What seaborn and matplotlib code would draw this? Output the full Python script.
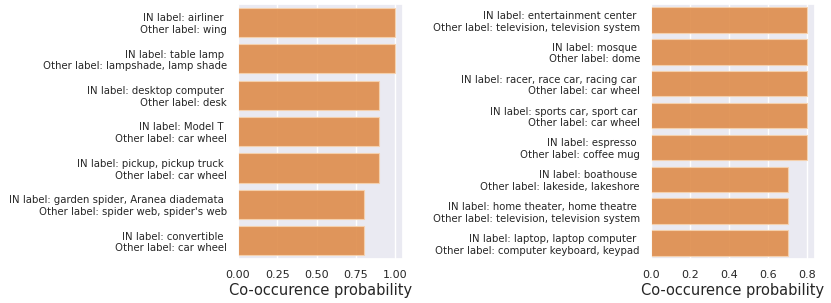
import matplotlib
matplotlib.use("Agg")
import matplotlib.pyplot as plt
import seaborn as sns
import pandas as pd

#%% data
left_labels = [
    "IN label: airliner \nOther label: wing",
    "IN label: table lamp \nOther label: lampshade, lamp shade",
    "IN label: desktop computer \nOther label: desk",
    "IN label: Model T \nOther label: car wheel",
    "IN label: pickup, pickup truck \nOther label: car wheel",
    "IN label: garden spider, Aranea diademata \nOther label: spider web, spider's web",
    "IN label: convertible \nOther label: car wheel",
]
left_probs = [1.0, 1.0, 0.9, 0.9, 0.9, 0.8, 0.8]
left_ticks = [0.0, 0.25, 0.5, 0.75, 1.0]

right_labels = [
    "IN label: entertainment center \nOther label: television, television system",
    "IN label: mosque \nOther label: dome",
    "IN label: racer, race car, racing car \nOther label: car wheel",
    "IN label: sports car, sport car \nOther label: car wheel",
    "IN label: espresso \nOther label: coffee mug",
    "IN label: boathouse \nOther label: lakeside, lakeshore",
    "IN label: home theater, home theatre \nOther label: television, television system",
    "IN label: laptop, laptop computer \nOther label: computer keyboard, keypad",
]
right_probs = [0.8, 0.8, 0.8, 0.8, 0.8, 0.7, 0.7, 0.7]
right_ticks = [0.0, 0.2, 0.4, 0.6, 0.8]

#%% plot
sns.set_theme(style="darkgrid")
bar_color = "#DE8C4A"

fig = plt.figure(figsize=(8.31, 3.03), dpi=100)
ax_left = fig.add_axes([238 / 831, 44 / 303, 165 / 831, 255 / 303])
ax_right = fig.add_axes([651 / 831, 44 / 303, 164 / 831, 255 / 303])

for ax, labels, probs, ticks, fmt in [(ax_left, left_labels, left_probs, left_ticks, "{:.2f}"),
                                      (ax_right, right_labels, right_probs, right_ticks, "{:.1f}")]:
    df = pd.DataFrame({"label": labels, "prob": probs})
    sns.barplot(data=df, x="prob", y="label", orient="h", color=bar_color,
                saturation=1, alpha=0.9, edgecolor="#F6D2AE", linewidth=0.8, ax=ax)
    ax.set_xticks(ticks)
    ax.set_xticklabels([fmt.format(t) for t in ticks])
    ax.set_ylabel("")
    ax.set_xlabel("Co-occurence probability", fontsize=10.5, labelpad=2)
    ax.tick_params(axis="y", labelsize=7.3, pad=2)
    ax.tick_params(axis="x", labelsize=8, pad=2)
    ax.grid(axis="y", visible=False)

plt.savefig("out.png", dpi=100)
